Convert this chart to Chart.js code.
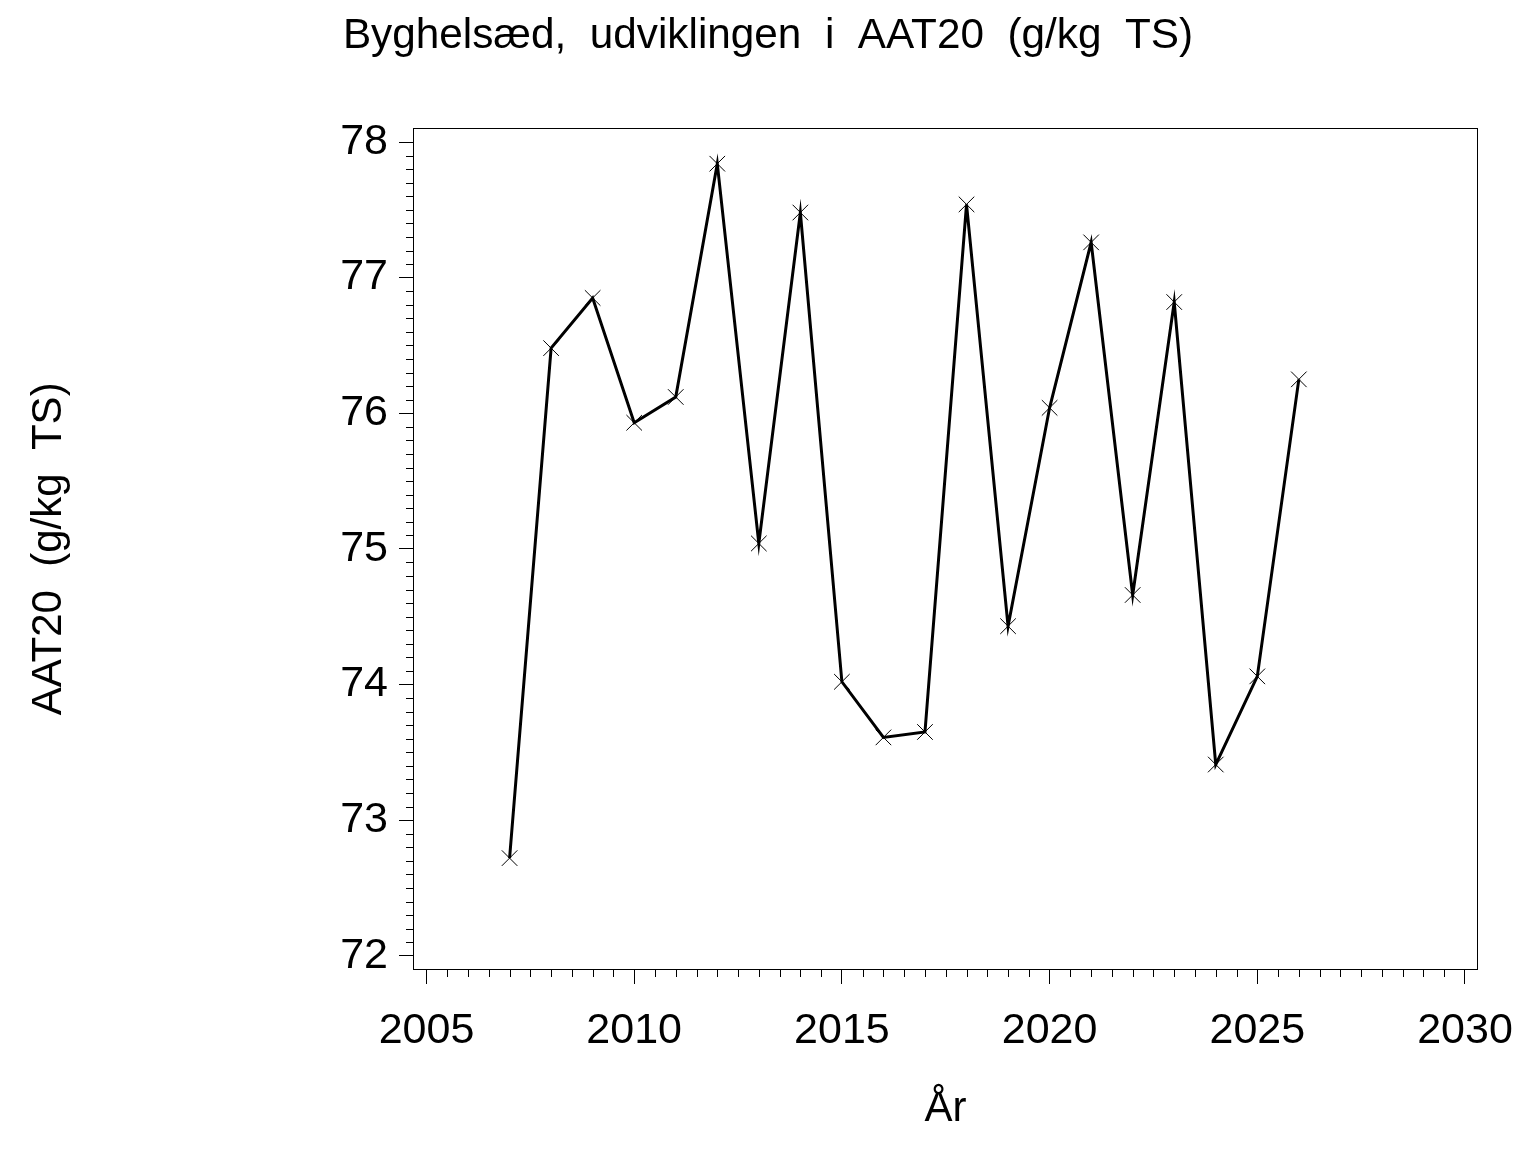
<!DOCTYPE html>
<html>
<head>
<meta charset="utf-8">
<title>Byghelsæd AAT20</title>
<script src="https://cdn.jsdelivr.net/npm/chart.js@4.4.1/dist/chart.umd.min.js"></script>
<style>
  html, body { margin: 0; padding: 0; background: #fff; }
  #wrap { width: 1536px; height: 1152px; }
</style>
</head>
<body>
<div id="wrap"><canvas id="chart" width="1536" height="1152"></canvas></div>
<script>
// values
const years = [2007, 2008, 2009, 2010, 2011, 2012, 2013, 2014, 2015, 2016,
               2017, 2018, 2019, 2020, 2021, 2022, 2023, 2024, 2025, 2026];
const aat20 = [72.72, 76.48, 76.85, 75.93, 76.12, 77.84, 75.04, 77.48, 74.02, 73.61,
               73.65, 77.54, 74.43, 76.04, 77.26, 74.66, 76.82, 73.41, 74.06, 76.25];
const xTicks = [2005, 2010, 2015, 2020, 2025, 2030];
const yTicks = [72, 73, 74, 75, 76, 77, 78];

const FONT = "'Liberation Sans', Arial, Helvetica, sans-serif";

// minor tick marks and the box round the plot
const frameAndMinorTicks = {
  id: 'frameAndMinorTicks',
  afterDraw(chart) {
    const { ctx, chartArea, scales: { x, y } } = chart;
    ctx.save();
    ctx.strokeStyle = '#000';
    ctx.lineWidth = 1;
    ctx.beginPath();
    for (let i = 1; i < 60; i++) {
      if (i % 10 === 0) continue;
      const py = Math.round(y.getPixelForValue(72 + i / 10)) + 0.5;
      ctx.moveTo(chartArea.left - 7, py);
      ctx.lineTo(chartArea.left, py);
    }
    for (let i = 1; i < 50; i++) {
      if (i % 10 === 0) continue;
      const px = Math.round(x.getPixelForValue(2005 + i / 2)) + 0.5;
      ctx.moveTo(px, chartArea.bottom);
      ctx.lineTo(px, chartArea.bottom + 7);
    }
    ctx.stroke();
    ctx.strokeRect(Math.round(chartArea.left) + 0.5, Math.round(chartArea.top) + 0.5,
                   Math.round(chartArea.width) - 1, Math.round(chartArea.height) - 1);
    ctx.restore();
  }
};

const points = years.map((yr, i) => ({ x: yr, y: aat20[i] }));

new Chart(document.getElementById('chart'), {
  type: 'line',
  data: {
    datasets: [{
      label: 'AAT20',
      data: points,
      borderColor: '#000',
      borderWidth: 3,
      tension: 0,
      fill: false,
      pointStyle: 'crossRot',
      pointRadius: 11,
      pointBorderWidth: 1,
      pointBorderColor: '#000',
      pointBackgroundColor: '#000',
    }],
  },
  options: {
    responsive: false,
    animation: false,
    layout: { padding: 0 },
    plugins: {
      legend: { display: false },
      tooltip: { enabled: false },
      title: {
        display: true,
        text: 'Byghelsæd,  udviklingen  i  AAT20  (g/kg  TS)',
        color: '#000',
        font: { family: FONT, size: 42.3, weight: 'normal' },
        padding: { top: 11, bottom: 66 },
      },
    },
    scales: {
      x: {
        type: 'linear',
        min: 2004.675,
        max: 2030.313,
        afterBuildTicks: (scale) => { scale.ticks = xTicks.map((v) => ({ value: v })); },
        afterFit: (scale) => { scale.height = 182; },
        ticks: {
          color: '#000',
          font: { family: FONT, size: 43 },
          padding: 21,
          maxRotation: 0,
          autoSkip: false,
          callback: (v) => String(v),
        },
        grid: { drawOnChartArea: false, tickLength: 14, color: '#000', tickColor: '#000', lineWidth: 1 },
        border: { display: false },
        title: {
          display: true,
          text: 'År',
          color: '#000',
          font: { family: FONT, size: 42 },
          padding: { top: 0, bottom: 17 },
        },
      },
      y: {
        type: 'linear',
        min: 71.895,
        max: 78.105,
        afterBuildTicks: (scale) => { scale.ticks = yTicks.map((v) => ({ value: v })); },
        afterFit: (scale) => { scale.width = 413; },
        ticks: {
          color: '#000',
          font: { family: FONT, size: 43 },
          padding: 11,
          autoSkip: false,
          callback: (v) => String(v),
        },
        grid: { drawOnChartArea: false, tickLength: 14, color: '#000', tickColor: '#000', lineWidth: 1 },
        border: { display: false },
        title: {
          display: true,
          text: 'AAT20  (g/kg  TS)',
          color: '#000',
          font: { family: FONT, size: 42 },
          padding: { top: 24, bottom: 0 },
        },
      },
      // empty strip on the right, keeps the plot box where the reference has it
      yRight: {
        position: 'right',
        display: true,
        afterFit: (scale) => { scale.width = 58; },
        ticks: { display: false },
        grid: { display: false },
        border: { display: false },
      },
    },
  },
  plugins: [frameAndMinorTicks],
});
</script>
</body>
</html>
